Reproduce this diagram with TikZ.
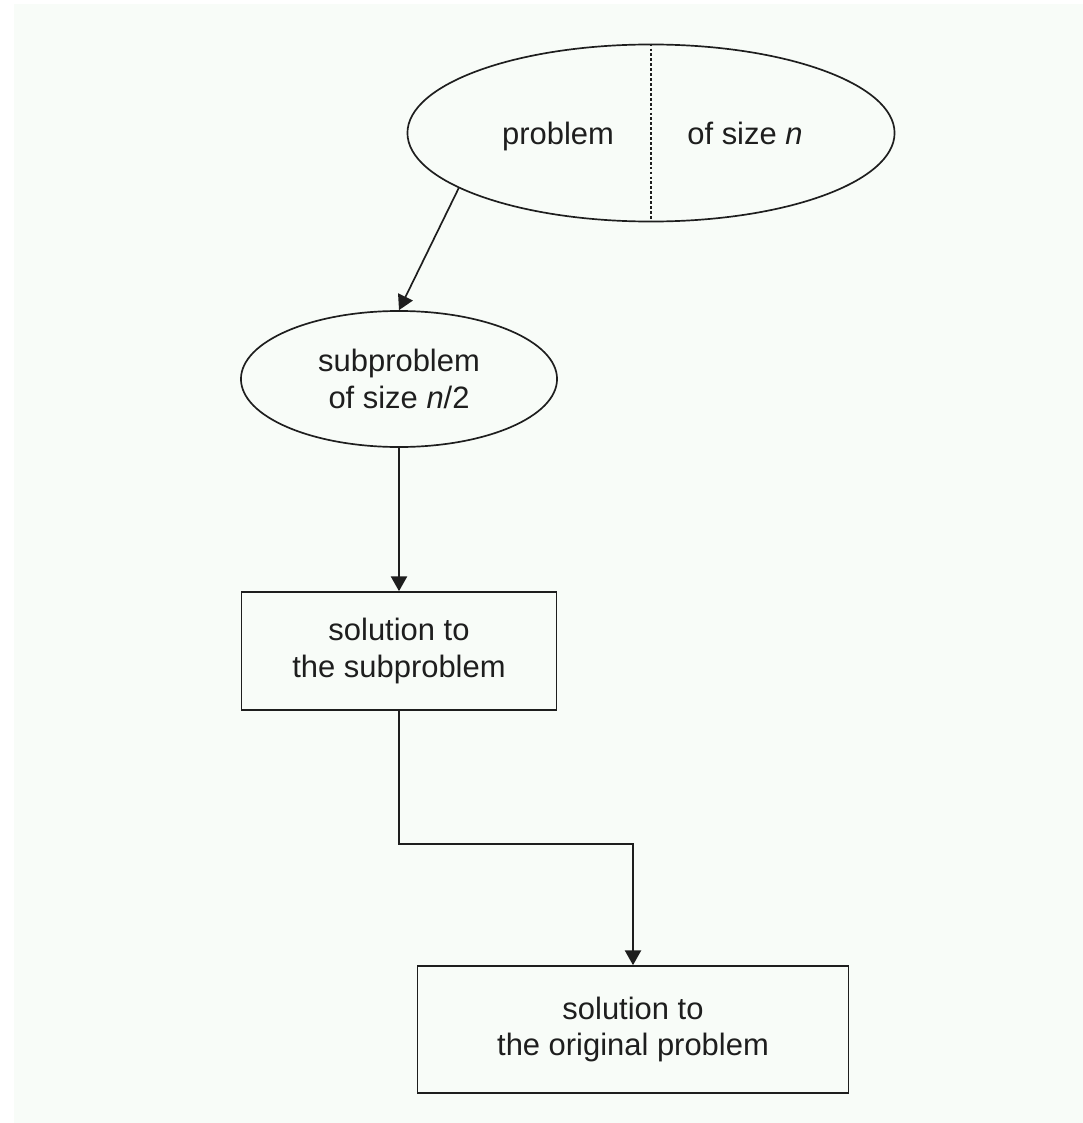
\documentclass[tikz,border=0pt]{standalone}
\usepackage{fontspec}
\setmainfont{Liberation Sans}
\usepackage{tikz}
\usetikzlibrary{shapes.geometric}
\usetikzlibrary{arrows.meta}
\usepackage{xcolor}
\definecolor{paper}{HTML}{F8FCF8}
\definecolor{ink}{HTML}{1E1E1E}

\begin{document}
\begin{tikzpicture}[x = 0.025cm, y = -0.025cm, font = \fontsize{22}{26}\selectfont, text = ink,
    oval/.style = {draw = ink, ellipse, line width = 1.2pt, inner sep = 0pt, align = center},
    box/.style = {draw = ink, rectangle, line width = 1.2pt, inner sep = 0pt, align = center},
    link/.style = {draw = ink, line width = 1.2pt, -{Triangle[length = 10.5pt, width = 11.5pt]}}]

    \useasboundingbox (0,0) rectangle (1083,1123);
    \fill[paper] (14,4) rectangle (1083,1123);

    % problem ellipse, split in two halves
    \node[oval, minimum width = 12.175cm, minimum height = 4.425cm] (whole) at (651,133) {};
    \draw[ink, line width = 0.9pt, dash pattern = on 2pt off 1.5pt] (whole.north) -- (whole.south);
    \node[anchor = base] (left) at (558,145) {problem};
    \node[anchor = base] (right) at (745,145) {of size \textit{n}};

    \node[oval, minimum width = 7.9cm, minimum height = 3.4cm] (half) at (399,379) {subproblem\\of size \textit{n}/2};

    \node[box, minimum width = 7.875cm, minimum height = 2.95cm] (subsol) at (399,651) {solution to\\the subproblem};
    \node[box, minimum width = 10.775cm, minimum height = 3.175cm] (sol) at (633,1029.5) {solution to\\the original problem};

    \coordinate (bend) at (subsol.south |- 0,844);

    \draw[link] (whole.196) -- (half.north);
    \draw[link] (half.south) -- (subsol.north);
    \draw[link] (subsol.south) -- (bend) -| (sol.north);

\end{tikzpicture}
\end{document}
